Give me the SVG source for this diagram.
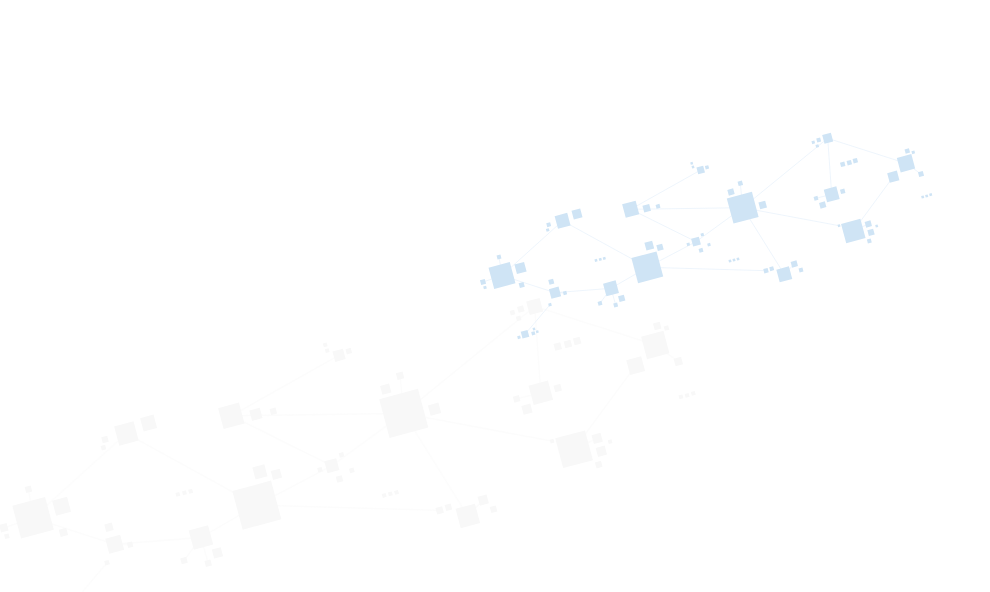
<svg xmlns="http://www.w3.org/2000/svg" xmlns:xlink="http://www.w3.org/1999/xlink" width="990" height="592" viewBox="0 0 990 592">
<style>
.sq{stroke:none}
.ln{fill:none;stroke-opacity:0.5;stroke-width:0.85}
</style>
<defs>
<rect id="s" class="sq" x="-0.5" y="-0.5" width="1" height="1"/>
<g id="net">
<g id="connectors" class="ln">
<line x1="502" y1="275.5" x2="562.6" y2="220.8"/>
<line x1="502" y1="275.5" x2="555" y2="292.7"/>
<line x1="562.6" y1="220.8" x2="647.3" y2="267.3"/>
<line x1="555" y1="292.7" x2="611" y2="288.3"/>
<line x1="611" y1="288.3" x2="647.3" y2="267.3"/>
<line x1="550" y1="304.7" x2="525" y2="334.3"/>
<line x1="647.3" y1="267.3" x2="696" y2="241.7"/>
<line x1="647.3" y1="267.3" x2="766" y2="270.7"/>
<line x1="630.7" y1="209.3" x2="700.7" y2="170"/>
<line x1="630.7" y1="209.3" x2="742.7" y2="207.7"/>
<line x1="630.7" y1="209.3" x2="696" y2="241.7"/>
<line x1="696" y1="241.7" x2="742.7" y2="207.7"/>
<line x1="742.7" y1="207.7" x2="827.7" y2="138.3"/>
<line x1="742.7" y1="207.7" x2="839" y2="225.7"/>
<line x1="742.7" y1="207.7" x2="784.3" y2="274.3"/>
<line x1="827.7" y1="138.3" x2="831.7" y2="194.3"/>
<line x1="827.7" y1="138.3" x2="906" y2="163.3"/>
<line x1="893.3" y1="176.7" x2="853.3" y2="231"/>
<line x1="906" y1="163.3" x2="921" y2="174"/>
<line x1="742.7" y1="207.7" x2="740.3" y2="183.3"/>
<line x1="611" y1="288.3" x2="600" y2="303.3"/>
<line x1="611" y1="288.3" x2="615.7" y2="305"/>
<line x1="502" y1="275.5" x2="499" y2="257"/>
<line x1="502" y1="275.5" x2="483" y2="282"/>
<line x1="555" y1="292.7" x2="565" y2="293"/>
<line x1="831.7" y1="194.3" x2="816" y2="198.3"/>
<line x1="784.3" y1="274.3" x2="794.3" y2="264"/>
<line x1="853.3" y1="231" x2="868.3" y2="224"/>
</g>
<g id="node-a">
<use xlink:href="#s" transform="translate(502 275.5) rotate(-15) scale(22)"/>
<use xlink:href="#s" transform="translate(520.5 268) rotate(-15) scale(10)"/>
<use xlink:href="#s" transform="translate(521.7 285) rotate(-15) scale(5)"/>
<use xlink:href="#s" transform="translate(499 257) rotate(-15) scale(4)"/>
<use xlink:href="#s" transform="translate(483 282) rotate(-15) scale(5)"/>
<use xlink:href="#s" transform="translate(485 287.5) rotate(-15) scale(3)"/>
</g>
<g id="node-b">
<use xlink:href="#s" transform="translate(562.6 220.8) rotate(-15) scale(13)"/>
<use xlink:href="#s" transform="translate(577 214) rotate(-15) scale(9)"/>
<use xlink:href="#s" transform="translate(548.7 224.7) rotate(-15) scale(4)"/>
<use xlink:href="#s" transform="translate(547.7 230) rotate(-15) scale(3)"/>
</g>
<g id="node-c">
<use xlink:href="#s" transform="translate(555 292.7) rotate(-15) scale(10)"/>
<use xlink:href="#s" transform="translate(551.3 281.7) rotate(-15) scale(5)"/>
<use xlink:href="#s" transform="translate(565 293) rotate(-15) scale(3.5)"/>
<use xlink:href="#s" transform="translate(550 304.7) rotate(-15) scale(3)"/>
</g>
<g id="node-d">
<use xlink:href="#s" transform="translate(611 288.3) rotate(-15) scale(13)"/>
<use xlink:href="#s" transform="translate(621.7 298.3) rotate(-15) scale(6)"/>
<use xlink:href="#s" transform="translate(615.7 305) rotate(-15) scale(4)"/>
<use xlink:href="#s" transform="translate(600 303.3) rotate(-15) scale(4)"/>
</g>
<g id="node-e">
<use xlink:href="#s" transform="translate(647.3 267.3) rotate(-15) scale(26)"/>
<use xlink:href="#s" transform="translate(649.3 245.7) rotate(-15) scale(8)"/>
<use xlink:href="#s" transform="translate(660 247.3) rotate(-15) scale(6)"/>
</g>
<g id="node-f">
<use xlink:href="#s" transform="translate(630.7 209.3) rotate(-15) scale(14)"/>
<use xlink:href="#s" transform="translate(646.7 208.3) rotate(-15) scale(7)"/>
<use xlink:href="#s" transform="translate(658 206.3) rotate(-15) scale(4)"/>
</g>
<g id="node-g">
<use xlink:href="#s" transform="translate(700.7 170) rotate(-15) scale(7)"/>
<use xlink:href="#s" transform="translate(707 167.3) rotate(-15) scale(3.5)"/>
<use xlink:href="#s" transform="translate(691.7 163.3) rotate(-15) scale(2.5)"/>
<use xlink:href="#s" transform="translate(693 167) rotate(-15) scale(2.5)"/>
</g>
<g id="node-h">
<use xlink:href="#s" transform="translate(696 241.7) rotate(-15) scale(8)"/>
<use xlink:href="#s" transform="translate(702.3 234.7) rotate(-15) scale(3)"/>
<use xlink:href="#s" transform="translate(688.3 244.3) rotate(-15) scale(3)"/>
<use xlink:href="#s" transform="translate(709 244.7) rotate(-15) scale(3)"/>
<use xlink:href="#s" transform="translate(701 250.3) rotate(-15) scale(4)"/>
</g>
<g id="node-i">
<use xlink:href="#s" transform="translate(742.7 207.7) rotate(-15) scale(26)"/>
<use xlink:href="#s" transform="translate(731 192) rotate(-15) scale(6)"/>
<use xlink:href="#s" transform="translate(740.3 183.3) rotate(-15) scale(4.5)"/>
<use xlink:href="#s" transform="translate(762.7 205) rotate(-15) scale(7)"/>
</g>
<g id="node-j">
<use xlink:href="#s" transform="translate(827.7 138.3) rotate(-15) scale(9)"/>
<use xlink:href="#s" transform="translate(818.7 140) rotate(-15) scale(4)"/>
<use xlink:href="#s" transform="translate(813.3 142.3) rotate(-15) scale(3)"/>
<use xlink:href="#s" transform="translate(817.3 146) rotate(-15) scale(3)"/>
</g>
<g id="node-k">
<use xlink:href="#s" transform="translate(831.7 194.3) rotate(-15) scale(13)"/>
<use xlink:href="#s" transform="translate(842.7 191.3) rotate(-15) scale(4.5)"/>
<use xlink:href="#s" transform="translate(816 198.3) rotate(-15) scale(4)"/>
<use xlink:href="#s" transform="translate(822.7 205) rotate(-15) scale(6)"/>
</g>
<g id="node-l">
<use xlink:href="#s" transform="translate(906 163.3) rotate(-15) scale(15)"/>
<use xlink:href="#s" transform="translate(907.3 151) rotate(-15) scale(4.5)"/>
<use xlink:href="#s" transform="translate(913.3 152.3) rotate(-15) scale(3)"/>
<use xlink:href="#s" transform="translate(893.3 176.7) rotate(-15) scale(10)"/>
<use xlink:href="#s" transform="translate(921 174) rotate(-15) scale(5)"/>
</g>
<g id="node-m">
<use xlink:href="#s" transform="translate(853.3 231) rotate(-15) scale(20)"/>
<use xlink:href="#s" transform="translate(868.3 224) rotate(-15) scale(6)"/>
<use xlink:href="#s" transform="translate(871 232.3) rotate(-15) scale(6)"/>
<use xlink:href="#s" transform="translate(869.3 241) rotate(-15) scale(4)"/>
<use xlink:href="#s" transform="translate(876.7 226) rotate(-15) scale(2.5)"/>
<use xlink:href="#s" transform="translate(839 225.7) rotate(-15) scale(2.5)"/>
</g>
<g id="node-n">
<use xlink:href="#s" transform="translate(784.3 274.3) rotate(-15) scale(13)"/>
<use xlink:href="#s" transform="translate(794.3 264) rotate(-15) scale(6)"/>
<use xlink:href="#s" transform="translate(801 270) rotate(-15) scale(4)"/>
<use xlink:href="#s" transform="translate(766 270.7) rotate(-15) scale(4.5)"/>
<use xlink:href="#s" transform="translate(771.7 268.7) rotate(-15) scale(4)"/>
</g>
<g id="node-o">
<use xlink:href="#s" transform="translate(525 334.3) rotate(-15) scale(7)"/>
<use xlink:href="#s" transform="translate(519 337.3) rotate(-15) scale(3)"/>
<use xlink:href="#s" transform="translate(533.3 333.3) rotate(-15) scale(3.5)"/>
<use xlink:href="#s" transform="translate(537.3 331.7) rotate(-15) scale(2.5)"/>
<use xlink:href="#s" transform="translate(534 329) rotate(-15) scale(2.5)"/>
</g>
<g id="dots">
<use xlink:href="#s" transform="translate(596 260.3) rotate(-15) scale(2.6)"/>
<use xlink:href="#s" transform="translate(600.3 259.3) rotate(-15) scale(2.6)"/>
<use xlink:href="#s" transform="translate(604.3 258.3) rotate(-15) scale(2.6)"/>
<use xlink:href="#s" transform="translate(730 261) rotate(-15) scale(2.6)"/>
<use xlink:href="#s" transform="translate(734 260) rotate(-15) scale(2.6)"/>
<use xlink:href="#s" transform="translate(738 259) rotate(-15) scale(2.6)"/>
<use xlink:href="#s" transform="translate(842.7 164.3) rotate(-15) scale(4.5)"/>
<use xlink:href="#s" transform="translate(849.3 162.7) rotate(-15) scale(4.5)"/>
<use xlink:href="#s" transform="translate(855.3 160.7) rotate(-15) scale(4.5)"/>
<use xlink:href="#s" transform="translate(922.7 197) rotate(-15) scale(2.6)"/>
<use xlink:href="#s" transform="translate(926.7 196) rotate(-15) scale(2.6)"/>
<use xlink:href="#s" transform="translate(930.7 194.7) rotate(-15) scale(2.6)"/>
</g>
</g>
</defs>
<rect width="990" height="592" fill="#ffffff"/>
<use id="shadow-network" xlink:href="#net" fill="#f8f8f8" stroke="#fafafa" transform="matrix(1.54 0 0 1.54 -740 93.5)"/>
<use id="network" xlink:href="#net" fill="#cfe4f5" stroke="#d6e8f7"/>
</svg>
